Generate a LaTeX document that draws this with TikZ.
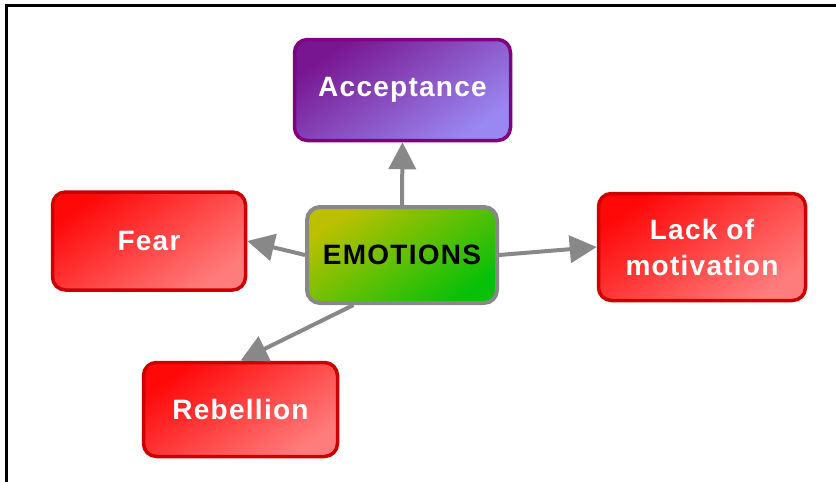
\documentclass[tikz,border=0pt]{standalone}
\usepackage{fontspec}
\setmainfont{Liberation Sans}
\newfontfamily\boxfont[LetterSpace=4.5]{Liberation Sans}
\usetikzlibrary{arrows.meta,calc}
\definecolor{redborder}{HTML}{CC0000}
\definecolor{redtop}{HTML}{FF0808}
\definecolor{redbot}{HTML}{FF7C7C}
\definecolor{purpborder}{HTML}{800080}
\definecolor{purptop}{HTML}{781590}
\definecolor{purpbot}{HTML}{9A88F2}
\definecolor{greyborder}{HTML}{888888}
\definecolor{greentop}{HTML}{BCC000}
\definecolor{greenbot}{HTML}{08C008}
\definecolor{arrowgrey}{HTML}{888888}
\tikzset{
  conceptbox/.style={rounded corners=13pt, line width=3.5pt, align=center,
    inner sep=0pt, font=\boxfont\bfseries\fontsize{28}{36}\selectfont},
  redbox/.style={conceptbox, draw=redborder, top color=redtop, bottom color=redbot,
    shading angle=35, text=white},
  purplebox/.style={conceptbox, draw=purpborder, top color=purptop, bottom color=purpbot,
    shading angle=35, text=white},
  greenbox/.style={conceptbox, draw=greyborder, line width=4pt, top color=greentop, bottom color=greenbot,
    shading angle=35, text=black},
  link/.style={draw=arrowgrey, line width=4pt,
    -{Triangle[length=27pt,width=27pt]}},
}
\begin{document}
\begin{tikzpicture}[x=1pt,y=-1pt]
\useasboundingbox (0,0) rectangle (836,482);
\fill[white] (0,0) rectangle (836,482);
\draw[line width=2.5pt] (6.5,482) -- (6.5,5.5) -- (836,5.5);

\node[greenbox, minimum width=190pt, minimum height=96pt] (emo) at (402,255) {EMOTIONS};
\node[purplebox, minimum width=216pt, minimum height=101pt] (acc) at (402.5,90) {Acceptance};
\node[redbox, minimum width=193pt, minimum height=98pt] (fear) at (149,241) {Fear};
\node[redbox, minimum width=207pt, minimum height=107pt] (lack) at (702,247) {Lack of\\motivation};
\node[redbox, minimum width=194pt, minimum height=94pt] (reb) at (240.5,409.5) {Rebellion};

\draw[link] (emo.north) -- (acc.south);
\draw[link] (emo.west) -- (fear.east);
\draw[link] (emo.east) -- (lack.west);
\draw[link] ($(emo.south west)!0.25!(emo.south east)$) -- (reb.north);
\end{tikzpicture}
\end{document}
